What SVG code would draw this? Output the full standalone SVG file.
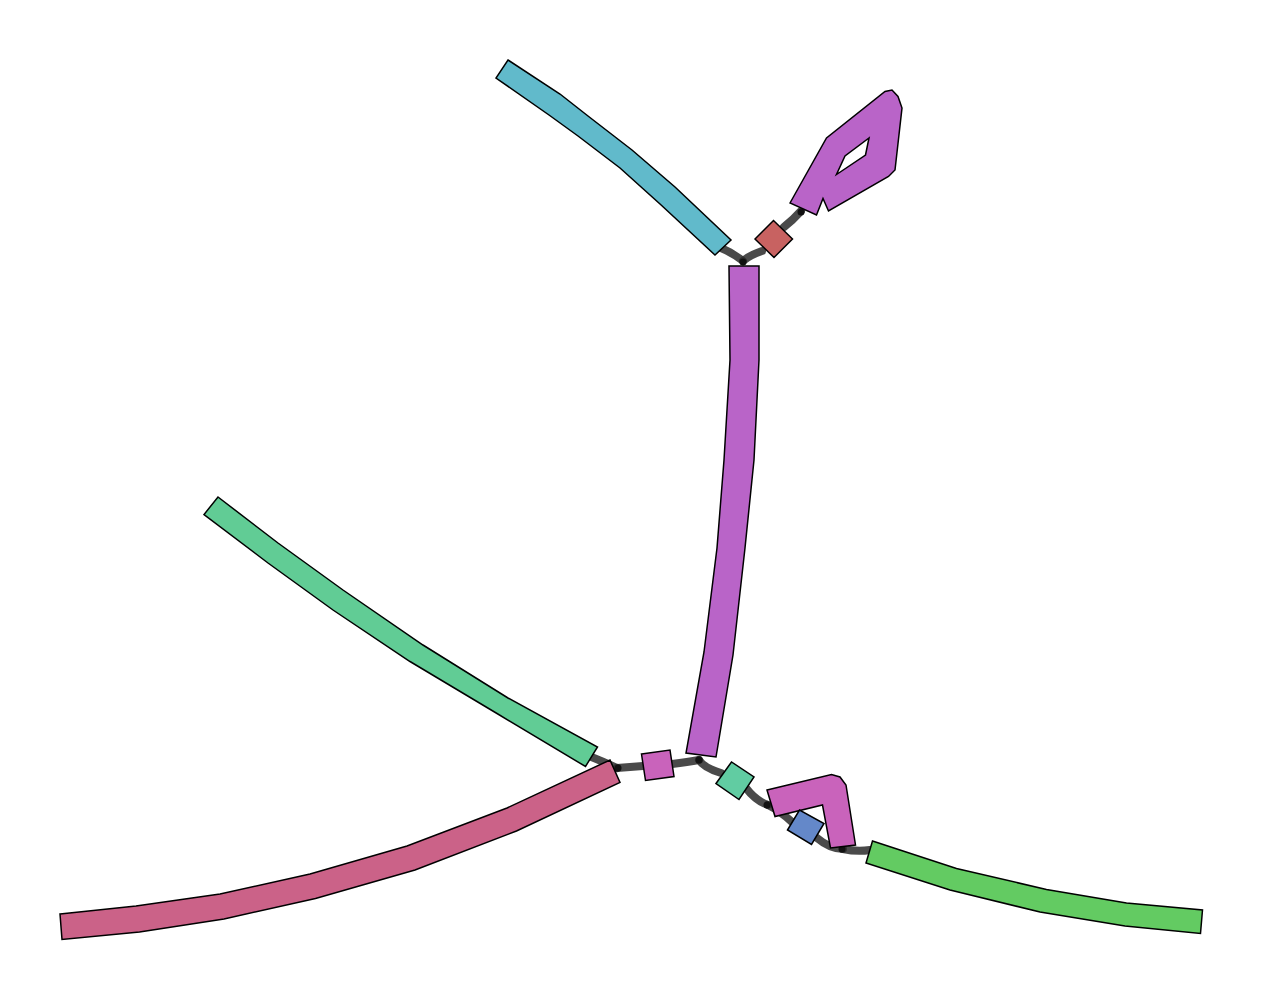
<svg xmlns="http://www.w3.org/2000/svg" width="1263" height="1000" viewBox="0 0 1263 1000">
<style>
.n{stroke:#000;stroke-width:1.5;stroke-linejoin:miter}
.e{fill:none;stroke:#2a2a2a;stroke-opacity:0.85;stroke-width:8;stroke-linecap:round}
.d{fill:#111}
</style>
<rect width="1263" height="1000" fill="#fff"/>
<g id="edges">
<path class="e" d="M 721 248 Q 733 253 743 261"/>
<path class="e" d="M 762 251 Q 750 255 743 261"/>
<path class="e" d="M 784 227 Q 793 220 801 211"/>
<path class="e" d="M 589 756 Q 604 762 617 768"/>
<path class="e" d="M 617 768 Q 630 767 643 766"/>
<path class="e" d="M 672 764 Q 688 762 699 760"/>
<path class="e" d="M 699 760 Q 704 768 721 773"/>
<path class="e" d="M 746 788 Q 756 801 768 805"/>
<path class="e" d="M 768 805 Q 780 811 792 822"/>
<path class="e" d="M 817 838 Q 830 849 843 849"/>
<path class="e" d="M 843 849 Q 857 852 870 850"/>
<circle class="d" cx="743" cy="262" r="3.5"/>
<circle class="d" cx="801" cy="212" r="3.5"/>
<circle class="d" cx="618" cy="768" r="3.5"/>
<circle class="d" cx="699" cy="760" r="3.5"/>
<circle class="d" cx="767" cy="805" r="3.5"/>
<circle class="d" cx="842" cy="849" r="3.5"/>
</g>
<g id="node-cyan">
<path class="n" fill="#61bacb" d="M 508 60 L 560 94 L 588 116 L 632 150 L 675 187 L 731 240 L 715 255 L 660 204 L 620 168 L 578 136 L 549 115 L 496 78 Z"/>
</g>
<g id="node-purple-long">
<path class="n" fill="#b964c8" d="M 729 266 L 759 266 L 759 360 L 754 460 L 745 548 L 733 655 L 716 757 L 686 753 L 704 652 L 717 548 L 724 460 L 730 360 Z"/>
</g>
<g id="node-red">
<path class="n" fill="#c86261" d="M 755 239 L 773.5 220.5 L 792.5 239 L 774 257.5 Z"/>
</g>
<g id="node-loop">
<path class="n" fill="#b964c8" fill-rule="evenodd" d="M 790 203 L 826.5 138 L 885 91.5 L 892 90 L 898 96.5 L 902 108 L 895 170 L 888.5 176.5 L 828.5 211 L 823 198.5 L 816.5 215 Z M 869 138 L 865.5 155 L 836.5 174.5 L 845 156 Z"/>
</g>
<g id="node-green-left">
<path class="n" fill="#61cc95" d="M 218 497 L 278 543 L 343 590 L 423 645 L 508 698 L 597.5 747 L 585.5 766.5 L 497 713.5 L 410 661.5 L 333 610 L 268 563 L 204 514.5 Z"/>
</g>
<g id="node-pink">
<path class="n" fill="#cb6288" d="M 60 914 L 136 906 L 220 894 L 310 874 L 407 846 L 507 808 L 610 760 L 620 782.5 L 516.5 831 L 415 870 L 315.5 898.5 L 224 919 L 139.5 932 L 62 939.5 Z"/>
</g>
<g id="node-purple-small">
<path class="n" fill="#c963bb" d="M 641.5 754 L 670 750 L 674 776.5 L 645.5 780.5 Z"/>
</g>
<g id="node-teal">
<path class="n" fill="#61cca2" d="M 716 783.5 L 731.5 762 L 754 777 L 739 799.5 Z"/>
</g>
<g id="node-purple-L">
<path class="n" fill="#c963bb" d="M 767 790 L 831.5 774.5 L 840 777 L 846 785 L 855.5 845 L 830.5 848 L 822.5 805 L 775 816.5 Z"/>
</g>
<g id="node-blue">
<path class="n" fill="#6488c9" d="M 787.5 830 L 799.5 810 L 824 823.5 L 811.5 844.5 Z"/>
</g>
<g id="node-green-right">
<path class="n" fill="#63cb62" d="M 872.5 841 L 956.5 868.5 L 1046.5 889.5 L 1126.5 903 L 1202.5 910 L 1200.5 933.5 L 1125 926 L 1040 912 L 950 890 L 866 863 Z"/>
</g>
</svg>
